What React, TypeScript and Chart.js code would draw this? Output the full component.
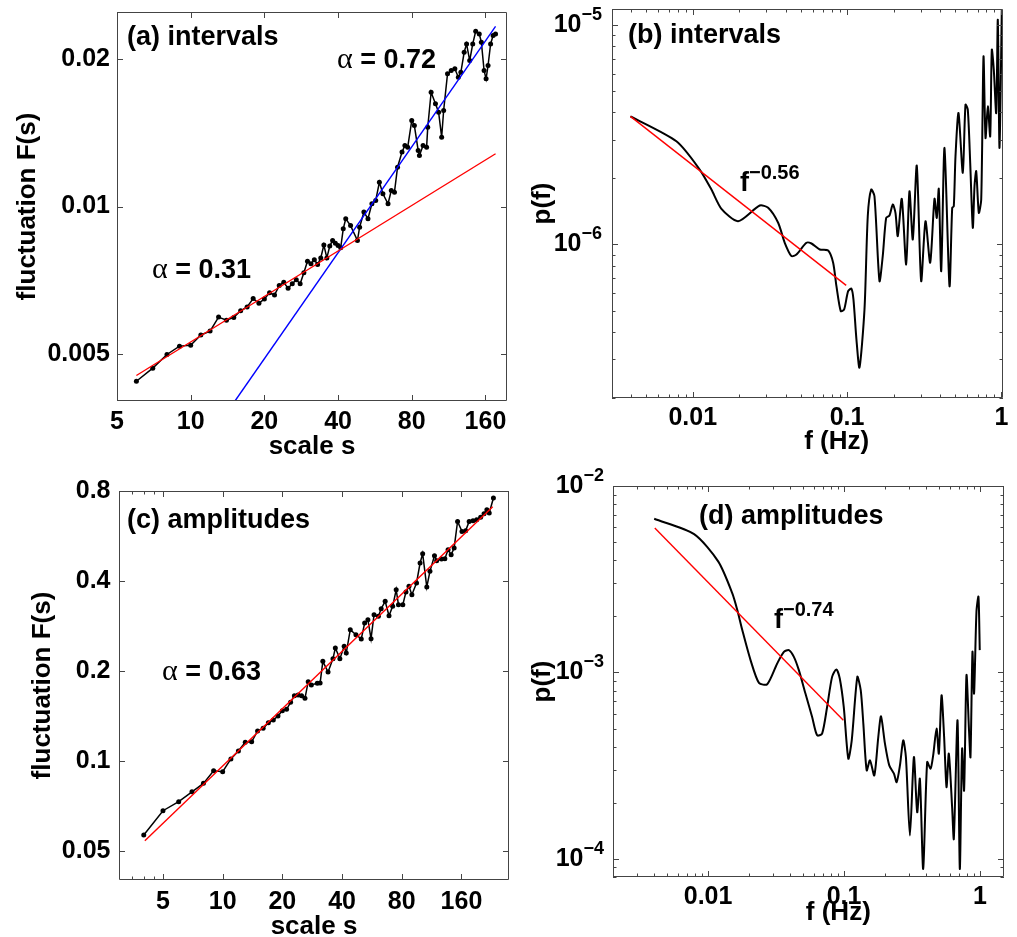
import React, { useEffect, useRef } from "react";
import { Chart, registerables } from "chart.js";

Chart.register(...registerables);

// ---------------- Data ----------------
// (a) DFA of intervals
const aScale = [6, 7, 8, 9, 10, 11, 12, 13, 14, 15, 16, 17, 18, 19, 20, 21, 22, 23, 24, 25, 26, 27, 28, 29, 30, 31, 32, 33, 34, 35, 36, 37, 38, 39, 40,
  41, 42, 43, 45, 48, 49, 51, 53, 55, 57, 59, 61, 64, 66, 68, 70, 73, 75, 77, 80, 82, 85, 86, 89, 92, 93, 96, 100, 103, 106, 108, 112, 116, 120, 124, 127, 131, 134, 138, 142, 146, 151, 154, 158, 161, 164, 168, 172, 176];
const aFluct = [0.00439, 0.00467, 0.00498, 0.00518, 0.0052, 0.00546, 0.00556, 0.00594, 0.00585, 0.00593, 0.00612, 0.00623, 0.00648, 0.00634, 0.00647, 0.00666, 0.00659, 0.00689, 0.007, 0.0068, 0.00695, 0.00708, 0.00695, 0.00732, 0.00773, 0.00764, 0.00778, 0.00761, 0.00785, 0.00834, 0.00785, 0.0083, 0.00852, 0.00841, 0.00832,
  0.00823, 0.009, 0.00944, 0.00914, 0.00852, 0.00907, 0.00974, 0.00944, 0.01013, 0.01029, 0.01121, 0.01062, 0.01013, 0.01078, 0.0107, 0.01203, 0.01292, 0.01333, 0.01322, 0.01499, 0.01464, 0.01302, 0.01272, 0.01333, 0.01322, 0.01453, 0.01713, 0.01622, 0.01559, 0.01386, 0.01572, 0.01868, 0.01897, 0.01913, 0.01839, 0.01882, 0.02068, 0.02151, 0.01989, 0.02151, 0.02283, 0.02255, 0.02168, 0.01897, 0.01825, 0.01943, 0.02151, 0.02238, 0.02255];
const aFitSmallScale = [6, 176];
const aFitSmallFluct = [0.00451, 0.01282];
const aFitLargeScale = [15.17, 176];
const aFitLargeFluct = [0.004, 0.02337];

// (b) spectrum of intervals
const bFreq = [0.00395, 0.00784, 0.0111, 0.01322, 0.01535, 0.01969, 0.02718, 0.03082, 0.03577, 0.03947, 0.04363, 0.047, 0.05457, 0.0588, 0.06655, 0.07545, 0.08125, 0.08535, 0.09103, 0.09576, 0.1016, 0.1068, 0.11, 0.115, 0.1203, 0.1297, 0.1362, 0.1433, 0.1505, 0.1622, 0.1703, 0.1792, 0.1883, 0.1978, 0.2059, 0.2131, 0.2262, 0.2415, 0.2537, 0.2666, 0.2829, 0.3021, 0.3222, 0.3456, 0.3685, 0.3813, 0.3929, 0.4073, 0.4278, 0.461, 0.4799, 0.4915, 0.5041, 0.5272, 0.5621, 0.5852, 0.6056, 0.6278, 0.6527, 0.6694, 0.6866, 0.7138, 0.7399, 0.7656, 0.7889, 0.8164, 0.846, 0.8665, 0.8927, 0.9252, 0.9477, 0.972, 1.006];
const bPower = [3.83e-6, 2.948e-6, 2.193e-6, 1.778e-6, 1.453e-6, 1.276e-6, 1.504e-6, 1.468e-6, 1.255e-6, 1.018e-6, 8.85e-7, 9.006e-7, 1.018e-6, 1.01e-6, 9.49e-7, 9.39e-7, 8.26e-7, 6.462e-7, 4.974e-7, 5.063e-7, 6.134e-7, 6.29e-7, 5.623e-7, 3.7e-7, 2.751e-7, 5.063e-7, 1.345e-6, 1.778e-6, 1.658e-6, 6.81e-7, 8.85e-7, 1.322e-6, 1.354e-6, 1.52e-6, 1.393e-6, 1.091e-6, 1.613e-6, 8.11e-7, 1.747e-6, 1.054e-6, 2.286e-6, 6.81e-7, 1.276e-6, 8.26e-7, 1.613e-6, 1.322e-6, 1.791e-6, 7.56e-7, 2.752e-6, 6.462e-7, 1.468e-6, 1.493e-6, 2.52e-6, 3.968e-6, 2.118e-6, 4.329e-6, 4.108e-6, 2.352e-6, 1.191e-6, 1.841e-6, 2.154e-6, 1.393e-6, 1.601e-6, 7.176e-6, 3.055e-6, 4.253e-6, 3.106e-6, 7.697e-6, 6.245e-6, 3.968e-6, 1.054e-5, 2.752e-6, 1.17e-5];
const bFitFreq = [0.00395, 0.0987];
const bFitPower = [3.83e-6, 6.51e-7];

// (c) DFA of amplitudes
const cScale = [4, 5, 6, 7, 8, 9, 10, 11, 12, 13, 14, 15, 16, 17, 18, 19, 20, 21, 22, 23, 24, 25, 26, 27, 28, 30, 31, 32, 34, 36, 37, 39, 41, 42, 44, 47, 50, 52, 54, 56, 58, 61, 63, 66, 69, 72, 75, 77, 81, 84, 87, 90, 95, 99, 102, 107, 111, 117, 120, 127, 132, 137, 142, 147, 153, 161, 168, 175, 183, 191, 200, 208, 215, 221, 232];
const cFluct = [0.0566, 0.0682, 0.0731, 0.0789, 0.0842, 0.0928, 0.0921, 0.1016, 0.108, 0.1155, 0.116, 0.126, 0.1286, 0.1343, 0.1371, 0.1414, 0.1473, 0.1489, 0.1571, 0.1654, 0.1662, 0.1654, 0.1621, 0.1842, 0.1796, 0.1819, 0.1824, 0.2155, 0.1985, 0.22, 0.2388, 0.22, 0.2419, 0.2297, 0.275, 0.2645, 0.256, 0.2894, 0.2969, 0.2565, 0.3086, 0.3048, 0.3232, 0.342, 0.3061, 0.3292, 0.374, 0.3333, 0.3333, 0.3675, 0.384, 0.36, 0.394, 0.4595, 0.4936, 0.382, 0.431, 0.486, 0.4679, 0.474, 0.4746, 0.509, 0.49, 0.516, 0.633, 0.586, 0.589, 0.633, 0.636, 0.641, 0.653, 0.672, 0.693, 0.675, 0.758];
const cFitScale = [4.05, 230];
const cFitFluct = [0.0541, 0.709];

// (d) spectrum of amplitudes
const dFreq = [0.004017, 0.007895, 0.0119, 0.01508, 0.01641, 0.01785, 0.02053, 0.02367, 0.02723, 0.03224, 0.03611, 0.03929, 0.04276, 0.04652, 0.05201, 0.05825, 0.06339, 0.06897, 0.07505, 0.08166, 0.08781, 0.093, 0.09949, 0.1075, 0.1139, 0.1252, 0.1326, 0.1386, 0.1467, 0.1551, 0.1669, 0.1785, 0.1869, 0.1999, 0.215, 0.2327, 0.2436, 0.2576, 0.2723, 0.285, 0.305, 0.3263, 0.345, 0.3611, 0.3818, 0.4084, 0.4327, 0.4521, 0.4787, 0.4977, 0.5211, 0.5443, 0.5669, 0.5894, 0.6232, 0.6414, 0.6828, 0.7099, 0.7379, 0.7631, 0.7947, 0.8305, 0.8504, 0.8795, 0.9036, 0.941, 0.9734, 0.995];
const dPower = [6.672e-3, 5.52e-3, 3.932e-3, 2.659e-3, 2.163e-3, 1.688e-3, 1.165e-3, 8.79e-4, 8.65e-4, 1.118e-3, 1.29e-3, 1.318e-3, 1.213e-3, 1.029e-3, 7.71e-4, 5.77e-4, 4.6e-4, 4.7e-4, 6.53e-4, 9.47e-4, 1.038e-3, 9.28e-4, 6.53e-4, 3.45e-4, 4.325e-4, 9.47e-4, 8.03e-4, 5.32e-4, 2.983e-4, 3.377e-4, 2.805e-4, 4.505e-4, 5.82e-4, 4.15e-4, 3.174e-4, 2.864e-4, 2.581e-4, 3.174e-4, 4.325e-4, 3.517e-4, 1.334e-4, 3.517e-4, 1.78e-4, 2.692e-4, 8.84e-5, 3.307e-4, 3.047e-4, 3.592e-4, 5.0e-4, 3.668e-4, 7.551e-4, 4.505e-4, 2.426e-4, 3.668e-4, 1.894e-4, 1.281e-4, 5.54e-4, 8.84e-5, 3.903e-4, 2.329e-4, 9.67e-4, 4.793e-4, 3.517e-4, 1.29e-3, 7.71e-4, 2.118e-3, 2.55e-3, 1.318e-3];
const dFitFreq = [0.004058, 0.0988];
const dFitPower = [5.945e-3, 5.54e-4];

// Tick values and labels
const scaleTicks = [5, 10, 20, 40, 80, 160];
const scaleTickLabels = ["5", "10", "20", "40", "80", "160"];
const aFluctTicks = [0.005, 0.01, 0.02];
const aFluctTickLabels = ["0.005", "0.01", "0.02"];
const cFluctTicks = [0.05, 0.1, 0.2, 0.4, 0.8];
const cFluctTickLabels = ["0.05", "0.1", "0.2", "0.4", "0.8"];
const cScaleMinorTicks = [3.5, 4, 4.5];
const freqTicks = [0.01, 0.1, 1];
const freqTickLabels = ["0.01", "0.1", "1"];
const bPowerTicks = [1e-6, 1e-5];
const bPowerExponents = ["\u22126", "\u22125"];
const dPowerTicks = [1e-4, 1e-3, 1e-2];
const dPowerExponents = ["\u22124", "\u22123", "\u22122"];

// ---------------- Rendering helpers ----------------
const SANS = '"Liberation Sans", Arial, Helvetica, sans-serif';
const SERIF = '"Liberation Serif", "Times New Roman", serif';
const FRAME = "#444444";

const pts = (xs: number[], ys: number[]) => xs.map((x, i) => ({ x, y: ys[i] }));

type Run = { t: string; size: number; bold?: boolean; serif?: boolean; dy?: number };
type Note = { x: number; y: number; runs: Run[] };
type Axis = {
  min: number; max: number; ticks: number[]; labels?: string[]; exps?: string[];
  pad: number; minor?: number[] | "decades"; title?: string; titlePad?: number;
};
type Spec = {
  key: string;
  canvas: { x: number; y: number; w: number; h: number };
  plot: { L: number; T: number; R: number; B: number };
  x: Axis; y: Axis;
  datasets: any[];
  notes: Note[];
  xTitleCustom?: { text: string; x: number; y: number };
};

function decadeMinors(min: number, max: number): number[] {
  const out: number[] = [];
  for (let k = Math.floor(Math.log10(min)); k <= Math.ceil(Math.log10(max)); k++) {
    for (let m = 2; m <= 9; m++) {
      const v = m * Math.pow(10, k);
      if (v >= min && v <= max) out.push(v);
    }
  }
  return out;
}

function makeDecor(s: Spec) {
  return {
    id: "decor" + s.key,
    afterDraw(chart: any) {
      const ctx: CanvasRenderingContext2D = chart.ctx;
      const { left, top, right, bottom } = chart.chartArea;
      const xs = chart.scales.x;
      const ys = chart.scales.y;
      ctx.save();
      // frame
      ctx.strokeStyle = FRAME;
      ctx.lineWidth = 1;
      ctx.beginPath();
      ctx.rect(left + 0.5, top + 0.5, right - left - 1, bottom - top - 1);
      ctx.stroke();
      // inward ticks on all sides
      ctx.beginPath();
      const tx = (v: number, len: number) => {
        const p = xs.getPixelForValue(v);
        if (p < left - 0.5 || p > right + 0.5) return;
        const px = Math.round(p) + 0.5;
        ctx.moveTo(px, bottom); ctx.lineTo(px, bottom - len);
        ctx.moveTo(px, top); ctx.lineTo(px, top + len);
      };
      const ty = (v: number, len: number) => {
        const p = ys.getPixelForValue(v);
        if (p < top - 0.5 || p > bottom + 0.5) return;
        const py = Math.round(p) + 0.5;
        ctx.moveTo(left, py); ctx.lineTo(left + len, py);
        ctx.moveTo(right, py); ctx.lineTo(right - len, py);
      };
      s.x.ticks.forEach((v) => tx(v, 6));
      s.y.ticks.forEach((v) => ty(v, 6));
      const xMinor = s.x.minor === "decades" ? decadeMinors(s.x.min, s.x.max) : s.x.minor || [];
      const yMinor = s.y.minor === "decades" ? decadeMinors(s.y.min, s.y.max) : s.y.minor || [];
      xMinor.forEach((v) => tx(v, 3.5));
      yMinor.forEach((v) => ty(v, 3.5));
      ctx.stroke();

      const ox = s.canvas.x;
      const oy = s.canvas.y;
      ctx.fillStyle = "#000";
      // power-of-ten y labels
      if (s.y.exps) {
        s.y.ticks.forEach((v, i) => {
          const py = ys.getPixelForValue(v);
          const exp = s.y.exps![i];
          ctx.font = `bold 18px ${SANS}`;
          const ew = ctx.measureText(exp).width;
          const xr = left - s.y.pad;
          ctx.textBaseline = "middle";
          ctx.textAlign = "left";
          ctx.fillText(exp, xr - ew, py - 10);
          ctx.font = `bold 25px ${SANS}`;
          ctx.textAlign = "right";
          ctx.fillText("10", xr - ew, py);
        });
      }
      // custom x title
      if (s.xTitleCustom) {
        ctx.font = `bold 26px ${SANS}`;
        ctx.textAlign = "center";
        ctx.textBaseline = "middle";
        ctx.fillText(s.xTitleCustom.text, s.xTitleCustom.x - ox, s.xTitleCustom.y - oy);
      }
      // annotations
      ctx.textAlign = "left";
      ctx.textBaseline = "alphabetic";
      s.notes.forEach((n) => {
        let cx = n.x - ox;
        n.runs.forEach((r) => {
          ctx.font = `${r.bold ? "bold " : ""}${r.size}px ${r.serif ? SERIF : SANS}`;
          ctx.fillText(r.t, cx, n.y - oy + (r.dy || 0));
          cx += ctx.measureText(r.t).width;
        });
      });
      ctx.restore();
    },
  };
}

function axisConfig(s: Spec, which: "x" | "y") {
  const a = which === "x" ? s.x : s.y;
  const cv = s.canvas;
  const pl = s.plot;
  const labelOf = (v: number) => {
    const i = a.ticks.indexOf(v);
    return i >= 0 && a.labels ? a.labels[i] : "";
  };
  return {
    type: "logarithmic",
    position: which === "x" ? "bottom" : "left",
    min: a.min,
    max: a.max,
    afterBuildTicks: (sc: any) => {
      sc.ticks = a.ticks.map((v) => ({ value: v }));
    },
    afterFit: (sc: any) => {
      if (which === "x") sc.height = cv.y + cv.h - pl.B;
      else sc.width = pl.L - cv.x;
    },
    grid: { display: false, drawTicks: false, tickLength: 0 },
    border: { display: false },
    ticks: {
      display: !!a.labels,
      padding: a.pad,
      color: "#000",
      autoSkip: false,
      maxRotation: 0,
      minRotation: 0,
      font: { family: SANS, size: 25, weight: "bold", lineHeight: 1 },
      callback: (v: number) => labelOf(v),
    },
    title: a.title
      ? {
          display: true,
          text: a.title,
          color: "#000",
          font: { family: SANS, size: 26, weight: "bold", lineHeight: 1 },
          padding: which === "x" ? { top: 0, bottom: a.titlePad || 0 } : { top: a.titlePad || 0, bottom: 0 },
        }
      : { display: false },
  };
}

function buildConfig(s: Spec): any {
  const cv = s.canvas;
  const pl = s.plot;
  return {
    type: "scatter",
    data: { datasets: s.datasets },
    options: {
      responsive: false,
      maintainAspectRatio: false,
      animation: false,
      devicePixelRatio: 1,
      events: [],
      layout: { padding: { left: 0, top: pl.T - cv.y, right: cv.x + cv.w - pl.R, bottom: 0 } },
      plugins: { legend: { display: false }, tooltip: { enabled: false } },
      scales: { x: axisConfig(s, "x"), y: axisConfig(s, "y") },
    },
    plugins: [makeDecor(s)],
  };
}

const dotsLine = (xs: number[], ys: number[]) => ({
  data: pts(xs, ys),
  showLine: true,
  borderColor: "#000",
  backgroundColor: "#000",
  borderWidth: 1.5,
  pointRadius: 2.5,
  pointBorderWidth: 0,
  order: 2,
});
const fitLine = (xs: number[], ys: number[], color: string) => ({
  data: pts(xs, ys),
  showLine: true,
  borderColor: color,
  backgroundColor: color,
  borderWidth: 1.4,
  pointRadius: 0,
  order: 1,
});
const spectrumLine = (xs: number[], ys: number[]) => ({
  data: pts(xs, ys),
  showLine: true,
  borderColor: "#000",
  backgroundColor: "#000",
  borderWidth: 2,
  pointRadius: 0,
  tension: 0.25,
  borderJoinStyle: "round",
  order: 2,
});

const alpha = (x: number, y: number, value: string): Note => ({
  x, y,
  runs: [
    { t: "\u03b1", size: 30, serif: true },
    { t: " = " + value, size: 27, bold: true },
  ],
});
const powerLaw = (x: number, y: number, exp: string): Note => ({
  x, y,
  runs: [
    { t: "f", size: 27, bold: true },
    { t: exp, size: 20, bold: true, dy: -12.5 },
  ],
});

const specs: Spec[] = [
  {
    key: "a",
    canvas: { x: 0, y: -30, w: 520, h: 500 },
    plot: { L: 117, T: 12, R: 507, B: 401 },
    x: { min: 5, max: 196, ticks: scaleTicks, labels: scaleTickLabels, pad: 8.2, title: "scale s", titlePad: 10.3 },
    y: { min: 0.004, max: 0.025, ticks: aFluctTicks, labels: aFluctTickLabels, pad: 7, title: "fluctuation F(s)", titlePad: 15.3 },
    datasets: [
      dotsLine(aScale, aFluct),
      fitLine(aFitSmallScale, aFitSmallFluct, "#ff0000"),
      fitLine(aFitLargeScale, aFitLargeFluct, "#0000ff"),
    ],
    notes: [
      { x: 127, y: 45, runs: [{ t: "(a) intervals", size: 27, bold: true }] },
      alpha(337, 68, "0.72"),
      alpha(152, 278, "0.31"),
    ],
  },
  {
    key: "b",
    canvas: { x: 510, y: -30, w: 510, h: 495 },
    plot: { L: 612, T: 9, R: 1003, B: 398 },
    x: { min: 0.003, max: 1.024, ticks: freqTicks, labels: freqTickLabels, pad: 7.8, minor: "decades" },
    y: { min: 2e-7, max: 1.18e-5, ticks: bPowerTicks, exps: bPowerExponents, pad: 10, minor: "decades", title: "p(f)", titlePad: 20.3 },
    datasets: [spectrumLine(bFreq, bPower), fitLine(bFitFreq, bFitPower, "#ff0000")],
    notes: [
      { x: 628, y: 43, runs: [{ t: "(b) intervals", size: 27, bold: true }] },
      powerLaw(740, 191, "\u22120.56"),
    ],
    xTitleCustom: { text: "f (Hz)", x: 836.7, y: 441.7 },
  },
  {
    key: "c",
    canvas: { x: 0, y: 465, w: 520, h: 490 },
    plot: { L: 119, T: 491, R: 509, B: 880 },
    x: { min: 3, max: 278, ticks: scaleTicks, labels: scaleTickLabels, pad: 9.2, minor: cScaleMinorTicks, title: "scale s", titlePad: 15.3 },
    y: { min: 0.04, max: 0.8, ticks: cFluctTicks, labels: cFluctTickLabels, pad: 8.5, title: "fluctuation F(s)", titlePad: 29.7 },
    datasets: [dotsLine(cScale, cFluct), fitLine(cFitScale, cFitFluct, "#ff0000")],
    notes: [
      { x: 127, y: 528, runs: [{ t: "(c) amplitudes", size: 27, bold: true }] },
      alpha(162, 680, "0.63"),
    ],
  },
  {
    key: "d",
    canvas: { x: 510, y: 465, w: 510, h: 490 },
    plot: { L: 613, T: 486, R: 1004, B: 877 },
    x: { min: 0.002, max: 1.5, ticks: freqTicks, labels: freqTickLabels, pad: 7.2, minor: "decades" },
    y: { min: 8e-5, max: 1e-2, ticks: dPowerTicks, exps: dPowerExponents, pad: 9, minor: "decades", title: "p(f)", titlePad: 20.3 },
    datasets: [spectrumLine(dFreq, dPower), fitLine(dFitFreq, dFitPower, "#ff0000")],
    notes: [
      { x: 699, y: 524, runs: [{ t: "(d) amplitudes", size: 27, bold: true }] },
      powerLaw(774, 628, "\u22120.74"),
    ],
    xTitleCustom: { text: "f (Hz)", x: 838.3, y: 913.3 },
  },
];

function Panel({ spec }: { spec: Spec }) {
  const ref = useRef<HTMLCanvasElement>(null);
  useEffect(() => {
    if (!ref.current) return;
    const chart = new Chart(ref.current, buildConfig(spec));
    return () => chart.destroy();
  }, [spec]);
  const c = spec.canvas;
  return (
    <canvas
      ref={ref}
      width={c.w}
      height={c.h}
      style={{ position: "absolute", left: c.x, top: c.y, width: c.w, height: c.h }}
    />
  );
}

export default function App() {
  return (
    <div
      style={{
        position: "absolute",
        left: 0,
        top: 0,
        width: 1017,
        height: 937,
        overflow: "hidden",
        background: "#fff",
      }}
    >
      {specs.map((s) => (
        <Panel key={s.key} spec={s} />
      ))}
    </div>
  );
}
